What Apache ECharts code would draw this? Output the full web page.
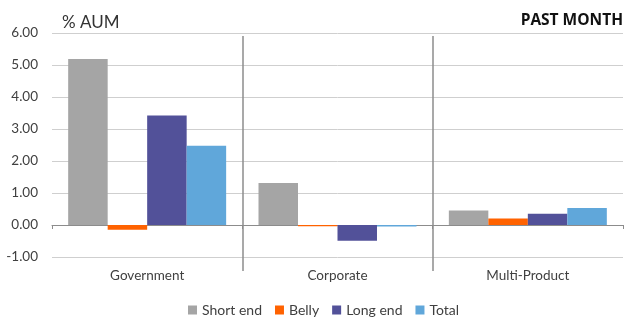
<!DOCTYPE html>
<html lang="en">
<head>
    <meta charset="UTF-8">
    <title>% AUM - past month</title>
    <script src="https://cdn.jsdelivr.net/npm/echarts@6.0.0/dist/echarts.min.js"></script>
    <style>
        html, body { margin: 0; padding: 0; background: #fff; }
        #main { width: 630px; height: 320px; }
    </style>
</head>
<body>
<div id="main"></div>
<script>
    // data
    const categories = ['Government', 'Corporate', 'Multi-Product'];
    const shortEnd = [5.19, 1.31, 0.45];
    const belly = [-0.15, -0.04, 0.20];
    const longEnd = [3.42, -0.49, 0.35];
    const total = [2.48, -0.05, 0.53];
    const seriesNames = ['Short end', 'Belly', 'Long end', 'Total'];
    const colors = ['#a5a5a5', '#ff6200', '#525199', '#60a7da'];

    const font = 'Lato';
    const chart = echarts.init(document.getElementById('main'));

    const option = {
        animation: false,
        color: colors,
        title: [
            {
                text: '% AUM',
                left: 57, top: 9,
                textStyle: { fontFamily: font, fontSize: 17, fontWeight: 'normal', color: '#333' }
            },
            {
                text: 'PAST MONTH',
                right: 2, top: 8,
                textStyle: { fontFamily: 'Open Sans', fontSize: 15.5, fontWeight: 'bold', color: '#111' }
            }
        ],
        legend: {
            top: 298, left: 183,
            itemWidth: 9, itemHeight: 9, itemGap: 13,
            icon: 'rect',
            textStyle: { fontFamily: font, fontSize: 14, color: '#404040' },
            data: seriesNames
        },
        grid: [
            { left: 52, right: 7, top: 33, bottom: 63 },
            // separator lines and category labels
            { left: 52, right: 7, top: 36, bottom: 49 }
        ],
        xAxis: [
            {
                type: 'category', gridIndex: 0, data: categories,
                axisLine: { onZero: true, lineStyle: { color: '#8c8c8c' } },
                axisTick: { show: true, length: 4, lineStyle: { color: '#8c8c8c' } },
                axisLabel: { show: false }
            },
            {
                type: 'category', gridIndex: 1, data: categories,
                axisLine: { show: false },
                axisTick: { show: false },
                axisLabel: { margin: -2, fontFamily: font, fontSize: 13.5, color: '#404040' },
                splitLine: {
                    show: true, showMinLine: false, showMaxLine: false,
                    lineStyle: { color: '#8c8c8c', width: 1.5 }
                }
            }
        ],
        yAxis: [
            {
                type: 'value', gridIndex: 0,
                min: -1, max: 6, interval: 1,
                axisLine: { show: false },
                axisTick: { show: false },
                axisLabel: {
                    margin: 14, fontFamily: font, fontSize: 13.5, color: '#404040',
                    formatter: v => v.toFixed(2)
                },
                splitLine: { lineStyle: { color: '#cfcfcf', width: 1 } }
            },
            {
                type: 'value', gridIndex: 1, show: false,
                splitLine: { show: false }
            }
        ],
        series: [
            { name: seriesNames[0], data: shortEnd },
            { name: seriesNames[1], data: belly },
            { name: seriesNames[2], data: longEnd },
            { name: seriesNames[3], data: total }
        ].map(s => Object.assign({
            type: 'bar',
            xAxisIndex: 0, yAxisIndex: 0,
            barGap: '0%', barCategoryGap: '17%'
        }, s))
    };

    chart.setOption(option);
</script>
</body>
</html>
